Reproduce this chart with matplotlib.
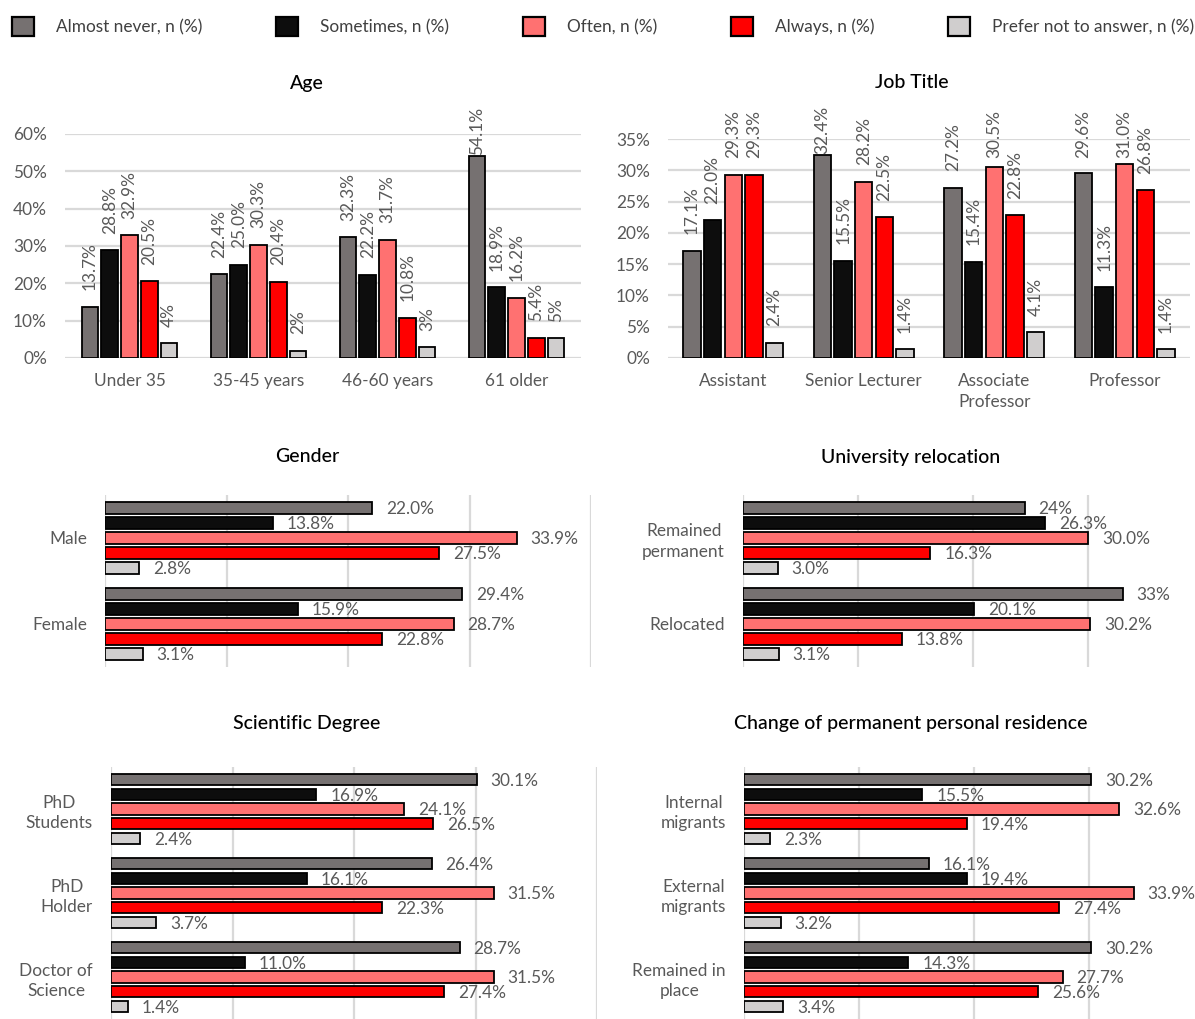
import matplotlib
matplotlib.use('Agg')
import matplotlib.pyplot as plt
import numpy as np
from matplotlib.patches import Patch

plt.rcParams['font.family'] = ['Lato', 'DejaVu Sans']

# --- data -------------------------------------------------------------
series = ['Almost never, n (%)', 'Sometimes, n (%)', 'Often, n (%)',
          'Always, n (%)', 'Prefer not to answer, n (%)']
colors = ['#767171', '#0D0D0D', '#FF7171', '#FF0000', '#D0CECE']

age_cats = ['Under 35', '35-45 years', '46-60 years', '61 older']
age_almost_never = [13.7, 22.4, 32.3, 54.1]
age_sometimes = [28.8, 25.0, 22.2, 18.9]
age_often = [32.9, 30.3, 31.7, 16.2]
age_always = [20.5, 20.4, 10.8, 5.4]
age_prefer_not = [3.9, 1.9, 2.9, 5.3]
age_prefer_not_labels = ['4%', '2%', '3%', '5%']

job_cats = ['Assistant', 'Senior Lecturer', 'Associate\nProfessor', 'Professor']
job_almost_never = [17.1, 32.4, 27.2, 29.6]
job_sometimes = [22.0, 15.5, 15.4, 11.3]
job_often = [29.3, 28.2, 30.5, 31.0]
job_always = [29.3, 22.5, 22.8, 26.8]
job_prefer_not = [2.4, 1.4, 4.1, 1.4]

gender_cats = ['Male', 'Female']
gender_almost_never = [22.0, 29.4]
gender_sometimes = [13.8, 15.9]
gender_often = [33.9, 28.7]
gender_always = [27.5, 22.8]
gender_prefer_not = [2.8, 3.1]

reloc_cats = ['Remained\npermanent', 'Relocated']
reloc_almost_never = [24.5, 33.0]
reloc_almost_never_labels = ['24%', '33%']
reloc_sometimes = [26.3, 20.1]
reloc_often = [30.0, 30.2]
reloc_always = [16.3, 13.8]
reloc_prefer_not = [3.0, 3.1]

degree_cats = ['PhD\nStudents', 'PhD\nHolder', 'Doctor of\nScience']
degree_almost_never = [30.1, 26.4, 28.7]
degree_sometimes = [16.9, 16.1, 11.0]
degree_often = [24.1, 31.5, 31.5]
degree_always = [26.5, 22.3, 27.4]
degree_prefer_not = [2.4, 3.7, 1.4]

res_cats = ['Internal\nmigrants', 'External\nmigrants', 'Remained in\nplace']
res_almost_never = [30.2, 16.1, 30.2]
res_sometimes = [15.5, 19.4, 14.3]
res_often = [32.6, 33.9, 27.7]
res_always = [19.4, 27.4, 25.6]
res_prefer_not = [2.3, 3.2, 3.4]

# --- style --------------------------------------------------------------
W, H = 1195, 1019
fs = 12.4
txt_gray = '#595959'
grid_c = '#D9D9D9'

fig = plt.figure(figsize=(W / 100, H / 100), dpi=100)


def add_ax(left, top, right, bottom):
    # axes box given in pixels from the top-left corner
    return fig.add_axes([left / W, 1 - bottom / H, (right - left) / W, (bottom - top) / H])


def fmt(vals):
    return [f'{v:.1f}%' for v in vals]


def clean(ax):
    for s in ax.spines.values():
        s.set_visible(False)
    ax.tick_params(length=0, labelcolor=txt_gray, labelsize=fs)


def vertical_panel(ax, cats, values, labels, ymax, ystep, pitch, width):
    x = np.arange(len(cats))
    texts = []
    for i in range(5):
        pos = x + (i - 2) * pitch
        ax.bar(pos, values[i], width, color=colors[i], edgecolor='black',
               linewidth=1.3, zorder=3)
        for xp, v, s in zip(pos, values[i], labels[i]):
            t = ax.annotate(s, (xp, v), xytext=(0, 12), textcoords='offset points',
                            rotation=90, ha='center', va='bottom',
                            color=txt_gray, fontsize=fs, annotation_clip=False)
            texts.append(t)
    ax.set_xlim(-0.5, len(cats) - 0.5)
    ax.set_ylim(0, ymax)
    ax.set_yticks(np.arange(0, ymax + 0.1, ystep))
    ax.yaxis.set_major_formatter(lambda v, p: f'{v:.0f}%')
    ax.set_xticks(x, cats)
    for t in ax.get_xticklabels():
        t.set_linespacing(1.4)
    ax.grid(axis='y', color=grid_c, linewidth=1.6, zorder=0)
    ax.set_axisbelow(True)
    clean(ax)
    ax.tick_params(axis='x', pad=11)
    ax.tick_params(axis='y', pad=13)
    return texts


def horizontal_panel(ax, cats, values, labels, xmax=40):
    y = np.arange(len(cats))
    pitch, height = 0.174, 0.132
    for i in range(5):
        pos = y + (i - 2) * pitch
        ax.barh(pos, values[i], height, color=colors[i], edgecolor='black',
                linewidth=1.3, zorder=3)
        for yp, v, s in zip(pos, values[i], labels[i]):
            ax.annotate(s, (v, yp), xytext=(10, -1), textcoords='offset points',
                        ha='left', va='center', color=txt_gray, fontsize=fs,
                        annotation_clip=False)
    ax.set_ylim(len(cats) - 0.5, -0.5)
    ax.set_xlim(0, xmax)
    ax.set_xticks(np.arange(0, xmax + 0.1, 10))
    ax.set_yticks(y, cats)
    for t in ax.get_yticklabels():
        t.set_multialignment('center')
        t.set_linespacing(1.35)
    ax.grid(axis='x', color=grid_c, linewidth=1.6, zorder=0)
    ax.set_axisbelow(True)
    clean(ax)
    ax.tick_params(axis='x', labelbottom=False)
    ax.tick_params(axis='y', pad=13)


# --- panels -------------------------------------------------------------
ax_age = add_ax(65, 134, 581, 358)
age_texts = vertical_panel(
    ax_age, age_cats,
    [age_almost_never, age_sometimes, age_often, age_always, age_prefer_not],
    [fmt(age_almost_never), fmt(age_sometimes), fmt(age_often), fmt(age_always),
     age_prefer_not_labels],
    60, 10, 0.1535, 0.128)

ax_job = add_ax(668, 139, 1190, 358)
job_texts = vertical_panel(
    ax_job, job_cats,
    [job_almost_never, job_sometimes, job_often, job_always, job_prefer_not],
    [fmt(job_almost_never), fmt(job_sometimes), fmt(job_often), fmt(job_always),
     fmt(job_prefer_not)],
    35, 5, 0.158, 0.133)

ax_gender = add_ax(105, 495, 591, 667)
horizontal_panel(
    ax_gender, gender_cats,
    [gender_almost_never, gender_sometimes, gender_often, gender_always, gender_prefer_not],
    [fmt(gender_almost_never), fmt(gender_sometimes), fmt(gender_often),
     fmt(gender_always), fmt(gender_prefer_not)])

ax_reloc = add_ax(743, 495, 1203, 667)
horizontal_panel(
    ax_reloc, reloc_cats,
    [reloc_almost_never, reloc_sometimes, reloc_often, reloc_always, reloc_prefer_not],
    [reloc_almost_never_labels, fmt(reloc_sometimes), fmt(reloc_often),
     fmt(reloc_always), fmt(reloc_prefer_not)])

ax_degree = add_ax(111, 767, 597, 1019)
horizontal_panel(
    ax_degree, degree_cats,
    [degree_almost_never, degree_sometimes, degree_often, degree_always, degree_prefer_not],
    [fmt(degree_almost_never), fmt(degree_sometimes), fmt(degree_often),
     fmt(degree_always), fmt(degree_prefer_not)])

ax_res = add_ax(744, 767, 1204, 1019)
horizontal_panel(
    ax_res, res_cats,
    [res_almost_never, res_sometimes, res_often, res_always, res_prefer_not],
    [fmt(res_almost_never), fmt(res_sometimes), fmt(res_often),
     fmt(res_always), fmt(res_prefer_not)])

# panel titles
titles = [('Age', 307, 83), ('Job Title', 912, 83),
          ('Gender', 307, 457), ('University relocation', 911, 457),
          ('Scientific Degree', 307, 724), ('Change of permanent personal residence', 911, 724)]
for s, x, y in titles:
    fig.text(x / W, 1 - y / H, s, ha='center', va='center', fontsize=14,
             color='black', fontweight='medium')

# legend
handles = [Patch(facecolor=c, edgecolor='black', linewidth=1.6) for c in colors]
fig.legend(handles, series, loc='upper left', bbox_to_anchor=(12 / W, 1 - 17 / H),
           ncol=5, frameon=False, fontsize=fs, handlelength=1.28, handleheight=1.28,
           handletextpad=1.3, columnspacing=4.25, borderpad=0, borderaxespad=0,
           labelcolor='#404040')

# keep rotated value labels inside the chart area (Excel clamps them),
# but never let them slide onto their bar
fig.canvas.draw()
renderer = fig.canvas.get_renderer()
limit = H - 110
for t in age_texts + job_texts:
    bb = t.get_window_extent(renderer)
    if bb.y1 > limit:
        t.xyann = (0, max(12 - (bb.y1 - limit) * 72 / 100, 1))

fig.savefig('out.png', dpi=100)
